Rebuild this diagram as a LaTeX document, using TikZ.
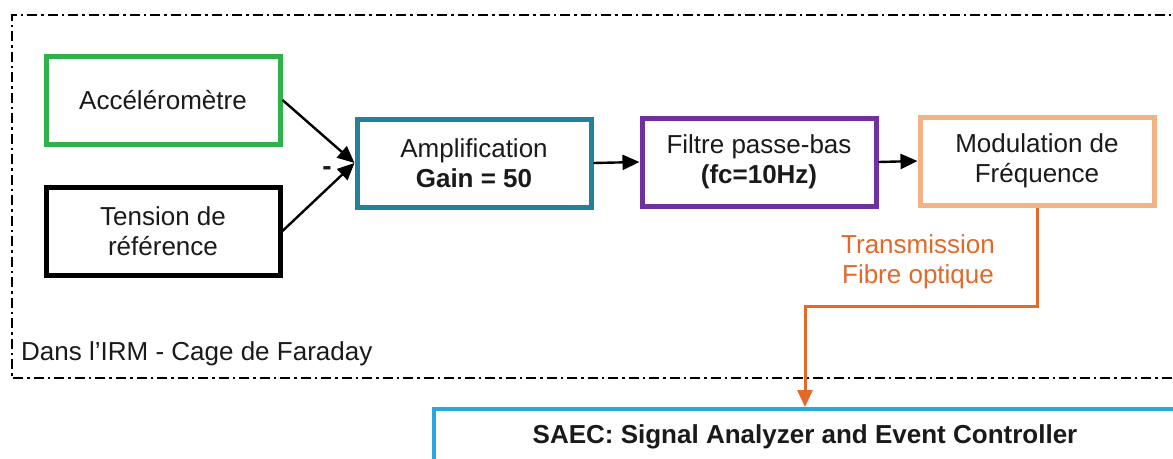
\documentclass[tikz,border=0pt]{standalone}
\usepackage{fontspec}
\setmainfont{Liberation Sans}
\usetikzlibrary{arrows.meta}
\definecolor{cgreen}{HTML}{2DB34A}
\definecolor{cteal}{HTML}{23819B}
\definecolor{cpurple}{HTML}{7030A0}
\definecolor{cpeach}{HTML}{F4B183}
\definecolor{corange}{HTML}{E2692A}
\definecolor{cblue}{HTML}{29A8E0}
\definecolor{ctext}{HTML}{1A1A1A}
\begin{document}
\begin{tikzpicture}[x=1pt,y=-1pt,
  every node/.style={font=\fontsize{26}{30}\selectfont, text=ctext},
  blockbox/.style={draw, line width=5pt, minimum width=234pt, minimum height=88pt, align=center, inner sep=0pt},
  sig/.style={line width=2.4pt, -{Triangle[length=17pt,width=15pt]}},
  fiber/.style={line width=3pt, corange, -{Triangle[length=17pt,width=15pt]}},
  cage/.style={line width=2.8pt, dash pattern=on 10pt off 4pt on 2.5pt off 4pt}
]
\useasboundingbox (0,0) rectangle (1173,458);
\clip (0,0) rectangle (1173,458);
\fill[white] (0,0) rectangle (1173,458);

% Faraday cage border
\draw[cage] (1185,15) -- (12,15) -- (12,378) -- (1185,378);
\node[anchor=base west, inner sep=0pt] (cagelbl) at (21,360) {Dans l’IRM - Cage de Faraday};

% blocks
\node[blockbox, draw=cgreen] (acc) at (163,100) {Accéléromètre};
\node[blockbox, draw=black] (ref) at (163,231) {Tension de\\référence};
\node[blockbox, draw=cteal] (amp) at (474,163) {Amplification\\\textbf{Gain = 50}};
\node[blockbox, draw=cpurple] (filt) at (759,162) {Filtre passe-bas\\\textbf{(fc=10Hz)}};
\node[blockbox, draw=cpeach] (mod) at (1037,161) {Modulation de\\Fréquence};

% connectors
\draw[sig] (acc.east) -- (amp.west);
\draw[sig] (ref.east) -- (amp.west);
\node[font=\fontsize{28}{30}\selectfont\bfseries] (minus) at (327,171) {-};
\draw[sig] (amp.east) -- (filt.west);
\draw[sig] (filt.east) -- (mod.west);

% SAEC box
\node[draw=cblue, line width=4pt, anchor=north west, minimum width=900pt, minimum height=120pt, inner sep=0pt] (saec) at (432,407) {};
\node[font=\fontsize{26}{30}\selectfont\bfseries] (saeclbl) at (805,437) {SAEC: Signal Analyzer and Event Controller};

% fibre link
\coordinate (turn) at (805,306);
\draw[fiber] (mod.south) |- (turn) -- (turn |- saec.north);
\node[align=center, text=corange] (fibrelbl) at (918,262) {Transmission\\Fibre optique};
\end{tikzpicture}
\end{document}
